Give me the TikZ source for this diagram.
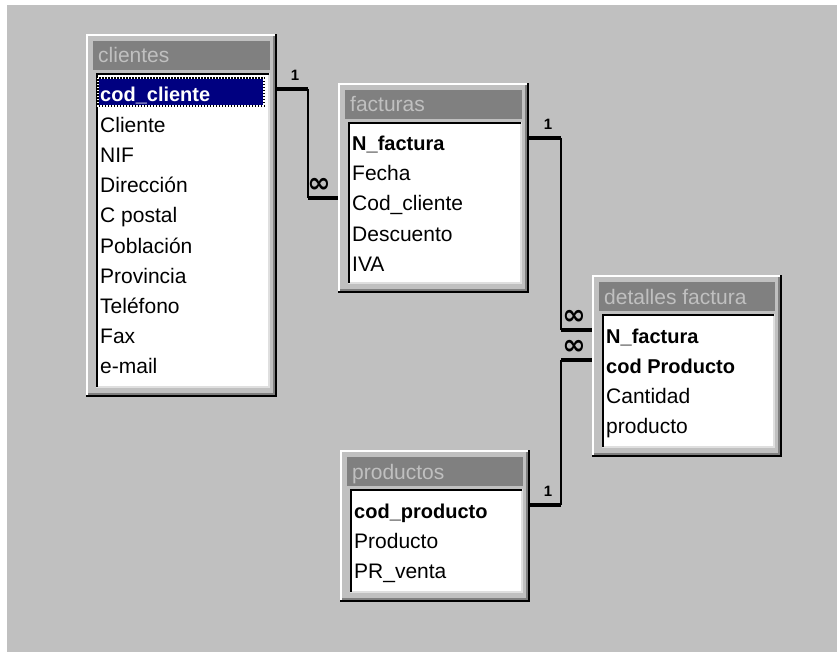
\documentclass[tikz,border=0pt]{standalone}
\usepackage{fontspec}
\setmainfont{Liberation Sans}
\newfontfamily\dejavu{DejaVu Sans}
\usetikzlibrary{calc}
\definecolor{fondo}{HTML}{C0C0C0}
\definecolor{gris}{HTML}{808080}
\definecolor{claro}{HTML}{DFDFDF}
\definecolor{azul}{HTML}{000080}

\begin{document}
\begin{tikzpicture}[line cap=butt,line join=miter,x=1pt,y=-1pt,
  ventana/.style={inner sep=0pt,outer sep=0pt,anchor=north west},
  fila/.style={anchor=west,inner sep=0pt,text height=28pt,text depth=2pt,font=\fontsize{21}{25}\selectfont},
  clave/.style={fila,font=\fontsize{20}{25}\selectfont\bfseries},
  titulo/.style={anchor=base west,inner sep=0pt,text=fondo,font=\fontsize{21}{25}\selectfont},
  grueso/.style={line width=4.5pt},
  fino/.style={line width=1.5pt},
  uno/.style={inner sep=0pt,font=\fontsize{15}{15}\selectfont\bfseries},
  muchos/.style={inner sep=0pt,font=\fontsize{28}{28}\dejavu\bfseries}]
  \useasboundingbox (0,0) rectangle (837,652);
  \fill[white] (0,0) rectangle (837,652);
  \fill[fondo] (7,5) rectangle (837,652);
  % ventanas de las tablas
  \foreach \n/\L/\T/\R/\B/\tit in {cli/86/34/277/397/clientes,fac/338/83/529/293/facturas,
      det/592/275/782/457/detalles factura,pro/340/450/530/602/productos}{
    \node[ventana,minimum width=\R-\L,minimum height=\B-\T] (\n) at (\L,\T) {};
    \draw[white,line width=2pt] (\L+1,\B-2) -- (\L+1,\T+1) -- (\R-2,\T+1);
    \draw[black,line width=2pt] (\L,\B-1) -- (\R-1,\B-1) -- (\R-1,\T);
    \draw[gris,line width=2pt] (\L+2,\B-3) -- (\R-3,\B-3) -- (\R-3,\T+2);
    \fill[gris] (\L+7,\T+7) rectangle (\R-7,\T+36);
    \node[titulo] at (\L+12,\T+29) {\tit};
    \fill[white] (\L+10,\T+39) rectangle (\R-7,\B-9);
    \draw[claro,line width=2pt] (\L+10,\B-10) -- (\R-8,\B-10) -- (\R-8,\T+39);
    \draw[black,line width=2pt] (\L+11,\B-10) -- (\L+11,\T+40) -- (\R-8,\T+40);
  }
  % clientes
  \fill[azul] (97,77) rectangle (265,107);
  \draw[black,line width=1.5pt] (98,78) rectangle (264,106);
  \draw[white,line width=1.5pt,dash pattern=on 1.5pt off 1.5pt] (98,78) rectangle (264,106);
  \node[clave,text=white] (cli-0) at ($(cli.north west)+(14,55)$) {cod\_cliente};
  \foreach \i/\t in {1/Cliente,2/NIF,3/Dirección,4/C postal,5/Población,6/Provincia,7/Teléfono,8/Fax,9/e-mail}
    \node[fila] (cli-\i) at ($(cli.north west)+(14,55+30.2*\i)$) {\t};
  % facturas
  \node[clave] (fac-0) at ($(fac.north west)+(14,55)$) {N\_factura};
  \foreach \i/\t in {1/Fecha,2/Cod\_cliente,3/Descuento,4/IVA}
    \node[fila] (fac-\i) at ($(fac.north west)+(14,55+30*\i)$) {\t};
  % detalles factura
  \node[clave] (det-0) at ($(det.north west)+(14,55)$) {N\_factura};
  \node[clave] (det-1) at ($(det.north west)+(14,85)$) {cod Producto};
  \foreach \i/\t in {2/Cantidad,3/producto}
    \node[fila] (det-\i) at ($(det.north west)+(14,55+30*\i)$) {\t};
  % productos
  \node[clave] (pro-0) at ($(pro.north west)+(14,55)$) {cod\_producto};
  \foreach \i/\t in {1/Producto,2/PR\_venta}
    \node[fila] (pro-\i) at ($(pro.north west)+(14,55+30*\i)$) {\t};
  % relaciones
  \coordinate (r1a) at ($(cli.east |- cli-0)+(31,0)$);
  \coordinate (r1b) at (r1a |- fac-2);
  \draw[grueso] (cli.east |- cli-0) -- (r1a);
  \draw[fino] (r1a) -- (r1b);
  \draw[grueso] (r1b) -- (fac.west |- fac-2);
  \node[uno] at ($(r1a)+(-13,-14)$) {1};
  \node[muchos] at ($(r1b)+(11,-13)$) {∞};
  \coordinate (r2a) at ($(fac.east |- fac-0)+(32,0)$);
  \coordinate (r2b) at (r2a |- det-0);
  \draw[grueso] (fac.east |- fac-0) -- (r2a);
  \draw[fino] (r2a) -- (r2b);
  \draw[grueso] (r2b) -- (det.west |- det-0);
  \node[uno] at ($(r2a)+(-13,-14)$) {1};
  \node[muchos] at ($(r2b)+(13,-13)$) {∞};
  \coordinate (r3a) at ($(pro.east |- pro-0)+(31,0)$);
  \coordinate (r3b) at (r3a |- det-1);
  \draw[grueso] (pro.east |- pro-0) -- (r3a);
  \draw[fino] (r3a) -- (r3b);
  \draw[grueso] (r3b) -- (det.west |- det-1);
  \node[uno] at ($(r3a)+(-13,-14)$) {1};
  \node[muchos] at ($(r3b)+(13,-13)$) {∞};
\end{tikzpicture}
\end{document}
